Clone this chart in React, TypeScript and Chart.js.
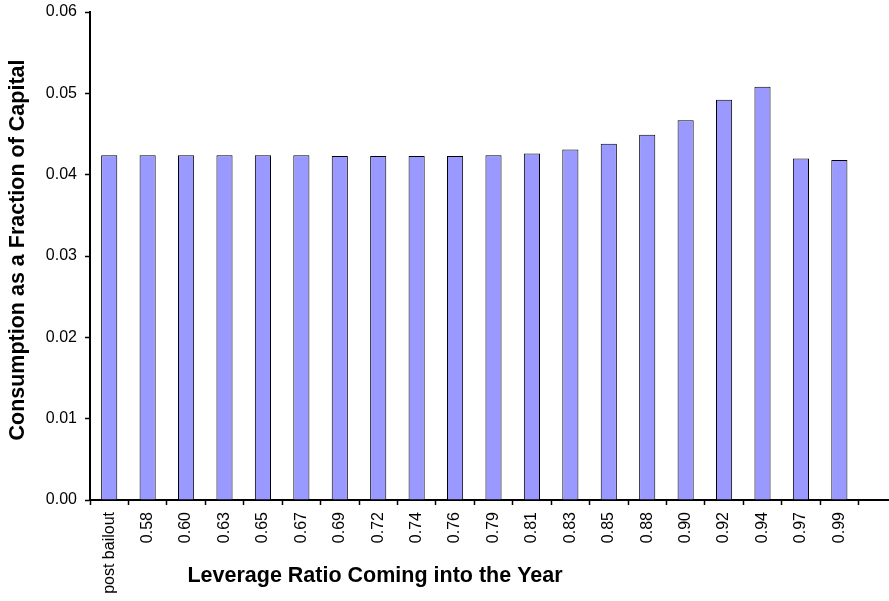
import React, { useEffect, useRef } from "react";
import { Chart, registerables } from "chart.js";

Chart.register(...registerables);

const categories = [
  "post bailout", "0.58", "0.60", "0.63", "0.65", "0.67", "0.69", "0.72", "0.74", "0.76",
  "0.79", "0.81", "0.83", "0.85", "0.88", "0.90", "0.92", "0.94", "0.97", "0.99", "",
];
const consumption = [
  0.0424, 0.0424, 0.0424, 0.0424, 0.0424, 0.0424, 0.0423, 0.0423, 0.0423, 0.0423,
  0.0424, 0.0426, 0.0431, 0.0438, 0.0449, 0.0467, 0.0492, 0.0508, 0.0420, 0.0418, null,
];
const yTicks = [0, 0.01, 0.02, 0.03, 0.04, 0.05, 0.06];
const xTitle = "Leverage Ratio Coming into the Year";
const yTitle = "Consumption as a Fraction of Capital";

const FONT = "'Liberation Sans', Arial, Helvetica, sans-serif";

const axisTitlesPlugin = {
  id: "axisTitles",
  afterDraw(chart: any) {
    const ctx = chart.ctx;
    ctx.save();
    ctx.font = `bold 21.5px ${FONT}`;
    ctx.fillStyle = "#000";
    ctx.textAlign = "center";
    ctx.textBaseline = "middle";
    ctx.fillText(xTitle, 375, 576);
    ctx.translate(18, 250);
    ctx.rotate(-Math.PI / 2);
    ctx.fillText(yTitle, 0, 0);
    ctx.restore();
  },
};

export default function App() {
  const ref = useRef<HTMLCanvasElement>(null);
  useEffect(() => {
    if (!ref.current) return;
    const chart = new Chart(ref.current, {
      type: "bar",
      data: {
        labels: categories,
        datasets: [
          {
            data: consumption as any,
            backgroundColor: "#9999FF",
            borderColor: "#000000",
            borderWidth: 1,
            barPercentage: 0.42,
            categoryPercentage: 1,
          },
        ],
      },
      options: {
        responsive: false,
        animation: false,
        layout: { padding: { top: 12, left: 0, right: 0, bottom: 0 } },
        plugins: { legend: { display: false }, tooltip: { enabled: false }, title: { display: false } },
        scales: {
          x: {
            grid: {
              display: true,
              offset: true,
              drawOnChartArea: false,
              drawTicks: true,
              tickLength: 5,
              tickWidth: 1.5,
              tickColor: "#000",
            },
            border: { display: true, color: "#000", width: 2 },
            ticks: {
              autoSkip: false,
              maxRotation: 90,
              minRotation: 90,
              padding: 7,
              color: "#000",
              font: { family: FONT, size: 16 },
            },
            afterFit: (s: any) => {
              s.height = 101;
              s.paddingLeft = 0;
              s.paddingRight = 0;
            },
          },
          y: {
            min: 0,
            max: 0.06,
            afterBuildTicks: (s: any) => {
              s.ticks = yTicks.map((v) => ({ value: v }));
            },
            grid: {
              display: true,
              drawOnChartArea: false,
              tickLength: 5,
              tickWidth: 1.5,
              tickColor: "#000",
            },
            border: { display: true, color: "#000", width: 2 },
            ticks: {
              padding: 8,
              color: "#000",
              font: { family: FONT, size: 16 },
              callback: (v: any) => Number(v).toFixed(2),
            },
            title: { display: false },
            afterFit: (s: any) => {
              s.width = 90;
              s.paddingTop = 0;
              s.paddingBottom = 0;
            },
          },
        },
      },
      plugins: [axisTitlesPlugin],
    });
    return () => chart.destroy();
  }, []);
  return (
    <div style={{ position: "fixed", left: 0, top: 0, width: 889, height: 601, overflow: "hidden", background: "#fff" }}>
      <canvas ref={ref} width={897} height={601} style={{ display: "block" }} />
    </div>
  );
}
